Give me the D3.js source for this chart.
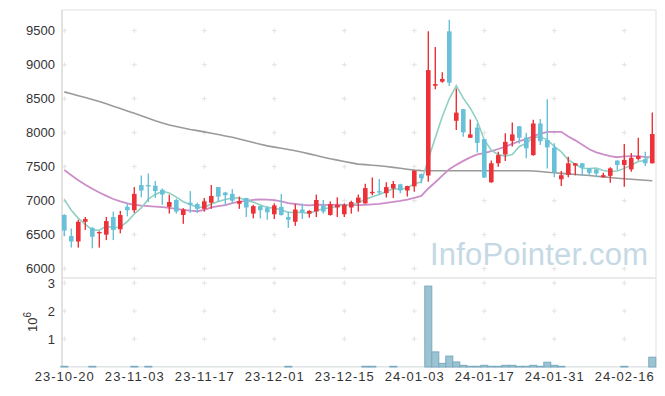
<!DOCTYPE html>
<html><head><meta charset="utf-8">
<script src="https://cdn.jsdelivr.net/npm/d3@7"></script>
<style>
html,body{margin:0;padding:0;background:#fff;}
svg{display:block;}
text{font-family:"Liberation Sans",Arial,sans-serif;}
</style></head><body>
<svg id="chart" width="665" height="396"></svg>
<script>
const dates = ["23-10-20","23-10-23","23-10-24","23-10-25","23-10-26","23-10-27","23-10-30","23-10-31","23-11-01","23-11-02",
"23-11-03","23-11-06","23-11-07","23-11-08","23-11-09","23-11-10","23-11-13","23-11-14","23-11-15","23-11-16",
"23-11-17","23-11-20","23-11-21","23-11-22","23-11-23","23-11-24","23-11-27","23-11-28","23-11-29","23-11-30",
"23-12-01","23-12-04","23-12-05","23-12-06","23-12-07","23-12-08","23-12-11","23-12-12","23-12-13","23-12-14",
"23-12-15","23-12-18","23-12-19","23-12-20","23-12-21","23-12-22","23-12-26","23-12-27","23-12-28","24-01-02",
"24-01-03","24-01-04","24-01-05","24-01-08","24-01-09","24-01-10","24-01-11","24-01-12","24-01-15","24-01-16",
"24-01-17","24-01-18","24-01-19","24-01-22","24-01-23","24-01-24","24-01-25","24-01-26","24-01-29","24-01-30",
"24-01-31","24-02-01","24-02-02","24-02-05","24-02-06","24-02-07","24-02-08","24-02-13","24-02-14","24-02-15",
"24-02-16","24-02-19","24-02-20","24-02-21","24-02-22"];
const open = [6790,6480,6400,6690,6600,6520,6500,6760,6580,6910,
6860,7230,7230,7220,7160,6910,7010,6790,6970,6950,
6880,6970,7200,7120,7100,6955,7040,6810,6920,6890,
6800,6910,6760,6690,6870,6810,6840,6930,6790,6900,
6800,6900,6970,6960,7110,7140,7110,7180,7240,7150,
7210,7390,7370,8690,8750,9490,8175,8345,7925,8075,
7905,7270,7550,7680,7880,8095,7930,7670,8135,7890,
7780,7315,7380,7515,7550,7475,7460,7345,7365,7590,
7525,7460,7615,7610,7550];
const high = [6800,6590,6720,6760,6610,6550,6760,6840,6850,6960,
7200,7370,7400,7290,7180,7090,7030,6890,7140,6970,
7040,7230,7200,7130,7170,7060,7040,6940,6930,6920,
6960,7100,6840,6950,6960,6860,7090,7010,6990,7050,
6960,7000,7090,7250,7340,7320,7270,7290,7250,7220,
7450,7400,9490,9260,8890,9660,8650,8350,8195,8135,
7905,7590,7720,7990,8150,8100,8000,8190,8200,8490,
7845,7435,7645,7555,7555,7480,7465,7410,7490,7595,
7835,7700,7925,7720,8295];
const low = [6480,6310,6310,6570,6300,6310,6420,6420,6520,6770,
6820,7050,6980,7040,6940,6810,6810,6660,6820,6820,
6840,6880,6980,6940,6960,6880,6760,6740,6740,6720,
6730,6780,6600,6630,6730,6750,6760,6810,6780,6760,
6760,6810,6840,6955,7080,7090,7045,7040,7110,7060,
7130,7255,7280,8640,8735,8685,8040,7940,7925,7710,
7335,7265,7500,7585,7795,7840,7625,7660,7820,7475,
7345,7215,7345,7375,7365,7365,7345,7340,7265,7450,
7205,7425,7590,7510,7545];
const close = [6560,6400,6690,6730,6470,6540,6700,6570,6790,6860,
7100,7150,7210,7140,7090,6980,6840,6870,6940,6880,
6990,7070,7060,7080,7000,6995,6900,6920,6860,6830,
6930,6790,6720,6870,6830,6850,7010,6840,6950,6940,
6940,6980,7045,7185,7130,7120,7200,7245,7150,7215,
7440,7330,8920,8715,8790,8735,8295,8005,7975,7850,
7340,7550,7670,7865,7975,7925,7770,8135,7875,7785,
7420,7375,7550,7550,7485,7410,7400,7375,7475,7525,
7600,7630,7655,7550,7980];
const ma5 = [7020,6860,6740,6650,6570,6566,6626,6602,6614,6692,
6804,6894,7022,7092,7138,7114,7052,6984,6944,6902,
6904,6950,6988,7016,7040,7041,7007,6979,6935,6901,
6888,6866,6826,6828,6828,6812,6856,6880,6896,6918,
6936,6930,6971,7018,7056,7092,7136,7176,7169,7186,
7250,7276,7611,7924,8239,8498,8691,8508,8360,8172,
7893,7744,7677,7655,7680,7797,7841,7934,7936,7898,
7797,7718,7601,7536,7476,7474,7479,7444,7429,7437,
7475,7521,7577,7592,7683];
const ma20 = [7450,7375,7300,7235,7175,7120,7070,7025,6990,6960,
6940,6928,6920,6912,6905,6895,6880,6865,6853,6845,
6866,6900,6919,6936,6963,6986,6996,7013,7017,7015,
7007,6989,6964,6951,6938,6931,6940,6938,6939,6942,
6939,6935,6934,6939,6946,6952,6967,6983,6998,7017,
7042,7069,7179,7271,7369,7463,7527,7585,7636,7681,
7701,7729,7760,7794,7836,7876,7904,7948,7984,8012,
8011,8013,7945,7887,7822,7756,7711,7680,7655,7639,
7652,7656,7656,7640,7640];
const ma60 = [8600,8572,8544,8516,8488,8458,8425,8390,8355,8320,
8284,8248,8212,8176,8143,8112,8090,8068,8046,8030,
8012,7992,7972,7952,7932,7906,7880,7855,7830,7806,
7788,7770,7752,7734,7712,7688,7664,7640,7616,7596,
7576,7556,7538,7530,7522,7514,7502,7490,7476,7462,
7450,7442,7440,7440,7440,7440,7440,7440,7440,7440,
7440,7440,7440,7440,7440,7440,7440,7436,7428,7418,
7410,7402,7394,7386,7378,7370,7360,7350,7340,7330,
7322,7315,7308,7300,7294];
const volume = [25000,8000,8000,8000,25000,8000,8000,8000,8000,8000,
25000,8000,25000,8000,8000,8000,8000,8000,8000,8000,
8000,8000,8000,8000,8000,8000,8000,8000,8000,8000,
8000,8000,25000,8000,8000,8000,8000,8000,8000,8000,
8000,8000,8000,25000,25000,8000,8000,25000,8000,8000,
8000,8000,2890000,540000,130000,390000,180000,60000,25000,25000,
60000,25000,25000,60000,60000,25000,25000,60000,25000,170000,
60000,25000,8000,8000,8000,8000,8000,8000,8000,8000,
25000,8000,8000,8000,350000];
const priceTicks = [6000,6500,7000,7500,8000,8500,9000,9500];
const volTicks = [1000000,2000000,3000000];
const volTickLabels = ["1","2","3"];
const xTickIndex = [0,10,20,30,40,50,60,70,80];

const L=62,R=656,T=10,MID=278,B=367;
const svg=d3.select('#chart');
const x=d3.scaleLinear().domain([-0.33,84.53]).range([L,R]);
const y=d3.scaleLinear().domain([5863,9804]).range([MID,T]);
const yv=d3.scaleLinear().domain([0,3179000]).range([B,MID]);

const UP='#ec3238', DOWN='#68c0d9';

// frames
svg.append('rect').attr('x',L).attr('y',T).attr('width',R-L).attr('height',MID-T)
  .attr('fill','none').attr('stroke','#e6e6e6').attr('stroke-width',1.2);
svg.append('rect').attr('x',L).attr('y',MID).attr('width',R-L).attr('height',B-MID)
  .attr('fill','none').attr('stroke','#e6e6e6').attr('stroke-width',1.2);
svg.append('line').attr('x1',L).attr('x2',L).attr('y1',T).attr('y2',B)
  .attr('stroke','#dedede').attr('stroke-width',1.5);

// grid crosses
const gridG=svg.append('g').attr('stroke','#e3e3e3').attr('stroke-width',1);
const crossYs=priceTicks.map(v=>y(v)).concat(volTicks.map(v=>yv(v)));
xTickIndex.forEach(i=>{
  crossYs.forEach(cy=>{
    const cx=x(i);
    gridG.append('line').attr('x1',cx-2.5).attr('x2',cx+2.5).attr('y1',cy).attr('y2',cy);
    gridG.append('line').attr('x1',cx).attr('x2',cx).attr('y1',cy-2.5).attr('y2',cy+2.5);
  });
});

// watermark
svg.append('text').attr('x',430).attr('y',265).attr('font-size',31)
  .attr('fill','#c5d9e5').attr('textLength',218).text('InfoPointer.com');

// MA lines
const lineGen=d3.line().x((d,i)=>x(i)).y(d=>y(d)).curve(d3.curveLinear);
svg.append('path').datum(ma60).attr('d',lineGen).attr('fill','none').attr('stroke','#9a9a9a').attr('stroke-width',1.6);
svg.append('path').datum(ma20).attr('d',lineGen).attr('fill','none').attr('stroke','#cc8ec8').attr('stroke-width',1.8);
svg.append('path').datum(ma5).attr('d',lineGen).attr('fill','none').attr('stroke','#8ed0c2').attr('stroke-width',1.6);

// candles
const cg=svg.append('g');
dates.forEach((d,i)=>{
  const o=open[i],c=close[i],h=high[i],l=low[i];
  const col=c>=o?UP:DOWN;
  cg.append('line').attr('x1',x(i)).attr('x2',x(i)).attr('y1',y(h)).attr('y2',y(l))
    .attr('stroke',col).attr('stroke-width',1.4);
  const top=y(Math.max(o,c)), bot=y(Math.min(o,c));
  cg.append('rect').attr('x',x(i)-2.3).attr('width',4.6).attr('y',top)
    .attr('height',Math.max(1.2,bot-top)).attr('fill',col);
});

// volume bars
const vg=svg.append('g');
dates.forEach((d,i)=>{
  const v=volume[i];
  const top=yv(v);
  vg.append('rect').attr('x',x(i)-3.5).attr('width',7).attr('y',top).attr('height',B-top)
    .attr('fill','#9cc3d1').attr('stroke',v>15000?'#78aac0':'none').attr('stroke-width',1);
});

// y labels
const lab=svg.append('g').attr('fill','#333').attr('font-size',13).attr('text-anchor','end');
priceTicks.forEach(v=>{
  lab.append('text').attr('x',55).attr('y',y(v)+4.6).text(v);
});
volTicks.forEach((v,k)=>{
  lab.append('text').attr('x',55).attr('y',yv(v)+4.6).text(volTickLabels[k]);
});
// 10^6
const t6=svg.append('text').attr('transform','translate(37,322) rotate(-90)')
  .attr('text-anchor','middle').attr('font-size',13).attr('fill','#333');
t6.append('tspan').text('10');
t6.append('tspan').attr('font-size',10).attr('dy',-6).text('6');

// x labels
const xl=svg.append('g').attr('fill','#333').attr('font-size',13).attr('text-anchor','middle');
xTickIndex.forEach(i=>{
  xl.append('text').attr('x',x(i)).attr('y',381).attr('textLength',59).text(dates[i]);
});
</script>
</body></html>
